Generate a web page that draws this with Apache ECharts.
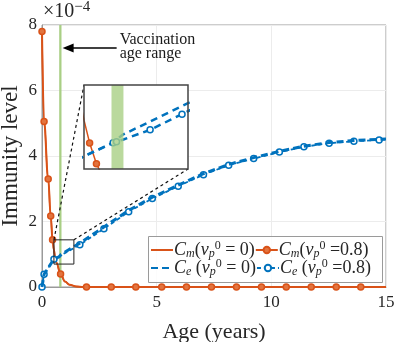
<!DOCTYPE html>
<html><head><meta charset="utf-8">
<script src="https://cdn.jsdelivr.net/npm/echarts@6/dist/echarts.min.js"></script>
<style>html,body{margin:0;padding:0;background:#fff}#c{width:399px;height:342px}</style>
</head><body><div id="c"></div>
<script>
// ---------- data ----------
const xTicks = [0, 5, 10, 15];
const yTicks = [0, 2, 4, 6, 8];
const vaccRange = [0.75, 0.85];
// C_m, nu=0 : smooth curve
const cmCurveAge = [0, 0.09, 0.27, 0.38, 0.46, 0.52, 0.567, 0.624, 0.81, 1.0, 1.2, 1.5, 1.8, 15];
const cmCurveVal = [7.8, 5.05, 3.3, 2.17, 1.44, 1.13, 0.93, 0.75, 0.4, 0.17, 0.07, 0.015, 0, 0];
// C_m, nu=0.8 : markers
const cmMarkAge = [0, 0.09, 0.27, 0.38, 0.46, 0.81, 1.94, 3.02, 4.09, 5.22, 6.30, 7.39, 8.48, 9.57, 10.65, 11.74, 12.83, 13.90];
const cmMarkVal = [7.8, 5.05, 3.3, 2.17, 1.44, 0.4, 0, 0, 0, 0, 0, 0, 0, 0, 0, 0, 0, 0];
// C_e, nu=0 : dashed line
const ceCurveAge = [0, 0.09, 0.52, 0.76, 0.84, 1.65, 2.7, 3.78, 4.81, 5.94, 7.04, 8.14, 9.23, 10.35, 11.42, 12.52, 13.6, 15];
const ceCurveVal = [0, 0.39, 0.85, 0.93, 1.0, 1.34, 1.83, 2.34, 2.74, 3.11, 3.46, 3.74, 3.95, 4.14, 4.30, 4.41, 4.47, 4.52];
// C_e, nu=0.8 : markers (+ line end)
const ceMarkAge = [0, 0.09, 0.52, 1.65, 2.7, 3.78, 4.81, 5.94, 7.04, 8.14, 9.23, 10.35, 11.42, 12.52, 13.6, 14.7];
const ceMarkVal = [0, 0.39, 0.85, 1.29, 1.78, 2.30, 2.70, 3.08, 3.43, 3.72, 3.92, 4.12, 4.28, 4.39, 4.45, 4.49];
const ceLineEndAge = [15];
const ceLineEndVal = [4.5];
// inset
const insetX = [0.52, 1.39];
const insetY = [0.70, 1.44];
const inCmAge = [0.46, 0.52, 0.567, 0.624, 0.70];
const inCmVal = [1.44, 1.13, 0.93, 0.747, 0.58];
const inCmMarkAge = [0.567, 0.624];
const inCeCurveAge = [0.46, 0.52, 0.76, 0.84, 1.39, 1.45];
const inCeCurveVal = [0.78, 0.812, 0.93, 1.0, 1.28, 1.31];
const inCeVacAge = [0.46, 0.52, 0.764, 0.792, 0.85, 1.073, 1.34, 1.45];
const inCeVacVal = [0.78, 0.812, 0.932, 0.94, 0.96, 1.045, 1.183, 1.24];
const inCeMarkAge = [0.764, 0.792, 1.073, 1.34];
// annotation
const arrowTip = [0.9, 7.3];

// ---------- styles ----------
const SERIF = 'Liberation Serif';
const ORANGE = '#D95319', BLUE = '#0072BD', GREEN = '#a9cf85';
const TXT = '#262626';

function curve(ages, vals) { return ages.map((a, i) => [a, vals[i]]); }
function withMarks(ages, vals, markAges) {
  return ages.map((a, i) => markAges.includes(a) ? { value: [a, vals[i]] } : { value: [a, vals[i]], symbol: 'none' });
}
function merge(curveAges, curveVals, markAges, markVals) {
  const pts = [];
  markAges.forEach((a, i) => pts.push({ value: [a, markVals[i]] }));
  curveAges.forEach((a, i) => { if (!markAges.includes(a)) pts.push({ value: [a, curveVals[i]], symbol: 'none' }); });
  pts.sort((p, q) => p.value[0] - q.value[0]);
  return pts;
}

const orangeMark = { color: '#e2743f', borderColor: ORANGE, borderWidth: 1.5 };
const blueMark = { color: '#ffffff', borderColor: BLUE, borderWidth: 1.5 };
const hiddenMark = { color: 'rgba(0,0,0,0)', borderWidth: 0 };

const legendRich = {
  it: { fontFamily: SERIF, fontStyle: 'italic', fontSize: 18, color: TXT, lineHeight: 20 },
  n: { fontFamily: SERIF, fontSize: 18, color: TXT, lineHeight: 20 },
  sub: { fontFamily: SERIF, fontStyle: 'italic', fontSize: 12, color: TXT, lineHeight: 12, verticalAlign: 'bottom' },
  sup: { fontFamily: SERIF, fontSize: 12, color: TXT, lineHeight: 12, verticalAlign: 'top' }
};
const legendText = {
  cm0: '{it|C}{sub|m}{n|(}{it|ν}{sub|p}{sup|0}{n| = 0)}',
  cm8: '{it|C}{sub|m}{n|(}{it|ν}{sub|p}{sup|0}{n| =0.8)}',
  ce0: '{it|C}{sub|e}{n| (}{it|ν}{sub|p}{sup|0}{n| = 0)}',
  ce8: '{it|C}{sub|e}{n| (}{it|ν}{sub|p}{sup|0}{n| =0.8)}'
};
const legendBase = {
  left: 150, orient: 'horizontal', itemWidth: 22, itemHeight: 8, itemGap: 0,
  padding: 0, textStyle: { rich: legendRich, padding: [0, 0, 0, -4] },
  formatter: n => legendText[n], selectedMode: false
};

const option = {
  animation: false,
  grid: [
    { left: 42, top: 25, right: 13, bottom: 55, show: true, borderColor: '#9a9a9a', borderWidth: 1,
      backgroundColor: 'transparent', outerBoundsMode: 'none', containLabel: false },
    { left: 84, top: 85, width: 104, height: 84, show: false, outerBoundsMode: 'none', containLabel: false }
  ],
  xAxis: [
    { gridIndex: 0, type: 'value', min: xTicks[0], max: xTicks[xTicks.length - 1], interval: 5,
      axisLine: { show: true, lineStyle: { color: '#9a9a9a' } }, axisTick: { show: false },
      axisLabel: { fontFamily: SERIF, fontSize: 17, color: TXT, margin: 7 },
      splitLine: { show: true, lineStyle: { color: '#ececec' } },
      name: 'Age (years)', nameLocation: 'middle', nameGap: 34, nameMoveOverlap: false,
      nameTextStyle: { fontFamily: SERIF, fontSize: 22, color: TXT } },
    { gridIndex: 1, type: 'value', min: insetX[0], max: insetX[1], show: false }
  ],
  yAxis: [
    { gridIndex: 0, type: 'value', min: yTicks[0], max: yTicks[yTicks.length - 1], interval: 2,
      axisLine: { show: true, lineStyle: { color: '#9a9a9a' } }, axisTick: { show: false },
      axisLabel: { fontFamily: SERIF, fontSize: 17, color: TXT, margin: 5 },
      splitLine: { show: true, lineStyle: { color: '#ececec' } },
      name: 'Immunity level', nameLocation: 'middle', nameGap: 20, nameMoveOverlap: false,
      nameTextStyle: { fontFamily: SERIF, fontSize: 23, color: TXT } },
    { gridIndex: 1, type: 'value', min: insetY[0], max: insetY[1], show: false }
  ],
  legend: [
    Object.assign({}, legendBase, { top: 240, data: ['cm0', 'cm8'] }),
    Object.assign({}, legendBase, { top: 258, data: ['ce0', 'ce8'] })
  ],
  series: [
    { name: 'band', type: 'line', data: [], xAxisIndex: 0, yAxisIndex: 0, z: 1,
      markArea: { silent: true, itemStyle: { color: GREEN, opacity: 1 },
        data: [[{ xAxis: vaccRange[0], yAxis: yTicks[0] }, { xAxis: vaccRange[1], yAxis: yTicks[yTicks.length - 1] }]] } },
    { name: 'cm0', type: 'line', xAxisIndex: 0, yAxisIndex: 0, data: curve(cmCurveAge, cmCurveVal),
      symbol: 'none', smooth: 0.4, smoothMonotone: 'x', clip: false,
      lineStyle: { color: ORANGE, width: 2 }, itemStyle: hiddenMark },
    { name: 'cm8', type: 'line', xAxisIndex: 0, yAxisIndex: 0, data: merge(cmCurveAge, cmCurveVal, cmMarkAge, cmMarkVal),
      symbol: 'circle', symbolSize: 6, showAllSymbol: true, smooth: 0.4, smoothMonotone: 'x', clip: false,
      lineStyle: { color: ORANGE, width: 1.5 }, itemStyle: orangeMark },
    { name: 'ce8', type: 'line', xAxisIndex: 0, yAxisIndex: 0, data: merge(ceLineEndAge, ceLineEndVal, ceMarkAge, ceMarkVal),
      symbol: 'circle', symbolSize: 6, showAllSymbol: true, clip: false, z: 3,
      lineStyle: { color: BLUE, width: 1.8, type: [4, 3] }, itemStyle: blueMark },
    { name: 'ce0', type: 'line', xAxisIndex: 0, yAxisIndex: 0, data: curve(ceCurveAge, ceCurveVal),
      symbol: 'none', clip: false, z: 4,
      lineStyle: { color: BLUE, width: 3, type: [7, 4] }, itemStyle: hiddenMark },
    // inset
    { name: 'in-cm8', type: 'line', xAxisIndex: 1, yAxisIndex: 1, z: 12, data: withMarks(inCmAge, inCmVal, inCmMarkAge),
      symbol: 'circle', symbolSize: 6, showAllSymbol: true, clip: true,
      lineStyle: { color: ORANGE, width: 1.5 }, itemStyle: orangeMark },
    { name: 'in-ce0', type: 'line', xAxisIndex: 1, yAxisIndex: 1, z: 12, data: curve(inCeCurveAge, inCeCurveVal),
      symbol: 'none', clip: true, lineStyle: { color: BLUE, width: 2.5, type: [7, 5] } },
    { name: 'in-ce8', type: 'line', xAxisIndex: 1, yAxisIndex: 1, z: 12, data: withMarks(inCeVacAge, inCeVacVal, inCeMarkAge),
      symbol: 'circle', symbolSize: 6, showAllSymbol: true, clip: true,
      lineStyle: { color: BLUE, width: 2.5, type: [7, 5] }, itemStyle: blueMark },
    { name: 'in-band', type: 'line', data: [], xAxisIndex: 1, yAxisIndex: 1, z: 13,
      markArea: { silent: true, z: 13, itemStyle: { color: GREEN, opacity: 0.8 },
        data: [[{ xAxis: vaccRange[0], yAxis: insetY[0] }, { xAxis: vaccRange[1], yAxis: insetY[1] }]] } }
  ]
};

const chart = echarts.init(document.getElementById('c'));
chart.setOption(option);

const P = (g, pt) => chart.convertToPixel({ gridIndex: g }, pt);
const a = P(0, [insetX[0], insetY[1]]);
const b = P(0, [insetX[1], insetY[0]]);
const tl = P(1, [insetX[0], insetY[1]]);
const br = P(1, [insetX[1], insetY[0]]);
const tip = P(0, arrowTip);
const tailX = tip[0] + 54;

chart.setOption({
  graphic: [
    // legend box
    { type: 'rect', z: 3, shape: { x: 148.5, y: 236.5, width: 234, height: 46 },
      style: { fill: 'rgba(255,255,255,0.85)', stroke: '#9a9a9a', lineWidth: 1 } },
    // exponent
    { type: 'text', z: 5, left: 43, top: 0,
      style: { rich: { a: { fontFamily: SERIF, fontSize: 20, fill: TXT, lineHeight: 24 },
                       b: { fontFamily: SERIF, fontSize: 15, fill: TXT, lineHeight: 14, verticalAlign: 'top' } },
               text: '{a|×10}{b|−4}' } },
    // zoom rectangle on main plot
    { type: 'rect', z: 9, shape: { x: a[0], y: a[1], width: b[0] - a[0], height: b[1] - a[1] },
      style: { fill: 'none', stroke: '#222', lineWidth: 1 } },
    { type: 'line', z: 9, shape: { x1: a[0], y1: a[1], x2: tl[0], y2: tl[1] },
      style: { stroke: '#111', lineWidth: 1.2, lineDash: [3, 3] } },
    { type: 'line', z: 9, shape: { x1: b[0], y1: a[1], x2: br[0], y2: br[1] },
      style: { stroke: '#111', lineWidth: 1.2, lineDash: [3, 3] } },
    // inset background and border
    { type: 'rect', z: 10, shape: { x: tl[0], y: tl[1], width: br[0] - tl[0], height: br[1] - tl[1] },
      style: { fill: '#fff', stroke: 'none' } },
    { type: 'rect', z: 20, shape: { x: tl[0], y: tl[1], width: br[0] - tl[0], height: br[1] - tl[1] },
      style: { fill: 'none', stroke: '#444', lineWidth: 1.5 } },
    // annotation arrow
    { type: 'line', z: 6, shape: { x1: tip[0] + 8, y1: tip[1], x2: tailX, y2: tip[1] },
      style: { stroke: '#000', lineWidth: 1.5 } },
    { type: 'polygon', z: 6, shape: { points: [[tip[0], tip[1]], [tip[0] + 11, tip[1] - 4.5], [tip[0] + 11, tip[1] + 4.5]] },
      style: { fill: '#000' } },
    { type: 'text', z: 6, left: tailX + 3, top: tip[1] - 16,
      style: { text: 'Vaccination\nage range', fontFamily: SERIF, fontSize: 16, lineHeight: 14, fill: '#1a1a1a' } }
  ]
});
</script>
</body></html>
